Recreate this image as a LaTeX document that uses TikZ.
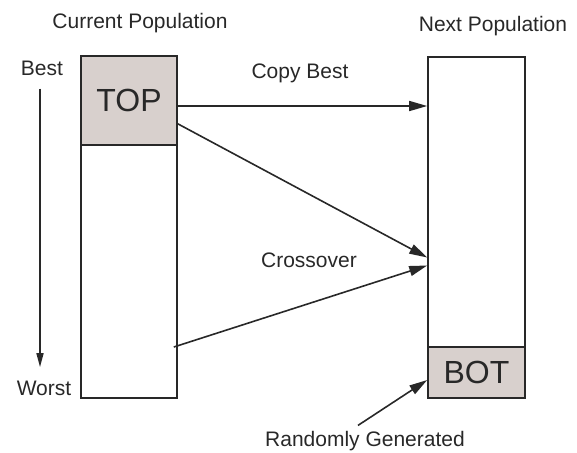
\documentclass[tikz,border=0pt]{standalone}
\usepackage{fontspec}
\setmainfont{Liberation Sans}
\usetikzlibrary{arrows.meta, calc}

\definecolor{popfill}{RGB}{216,208,205}
\definecolor{ink}{RGB}{40,40,40}

\begin{document}
\begin{tikzpicture}[
    x=0.5pt, y=-0.5pt,
    pop/.style={
      rectangle, draw=ink, line width=0.8pt,
      minimum width=48pt, inner sep=0pt
    },
    elite/.style={
      pop, fill=popfill, text=ink,
      font=\fontsize{16}{18}\selectfont
    },
    lbl/.style={font=\fontsize{10.5}{12}\selectfont, text=ink, inner sep=0pt},
    arr/.style={-{Triangle[length=9pt,width=5pt]}, line width=0.8pt, ink},
    rank/.style={-{Triangle[length=7pt,width=3.5pt]}, line width=0.8pt, ink}
  ]

  \useasboundingbox (0,0) rectangle (577,452);

  % Current population, elite block on top
  \node[pop, minimum height=171pt] (cur) at (129,227) {};
  \node[elite, minimum height=44.5pt, anchor=north] (top) at (cur.north) {TOP};

  % Next population, random block at the bottom
  \node[pop, minimum width=48.5pt, minimum height=170.5pt] (nxt) at (476.5,227.5) {};
  \node[elite, minimum width=48.5pt, minimum height=25.5pt, anchor=south]
    (bot) at (nxt.south) {BOT};

  % Labels
  \node[lbl, anchor=base] (curlbl) at (140,28)  {Current Population};
  \node[lbl, anchor=base] (nxtlbl) at (493,31)  {Next Population};
  \node[lbl, anchor=base] (best)   at (42,75)   {Best};
  \node[lbl, anchor=base] (worst)  at (44,395)  {Worst};
  \node[lbl, anchor=base] (copy)   at (300,78)  {Copy Best};
  \node[lbl, anchor=base] (cross)  at (309,267) {Crossover};
  \node[lbl, anchor=base] (rand)   at (365,446) {Randomly Generated};

  % Ranking arrow
  \draw[rank] ($(best.south)+(-2,13)$) -- ($(best.south |- worst.north)+(-2,-13)$);

  % Copy and crossover
  \draw[arr] ($(top.east)+(0,5.5)$) -- ($(top.east -| nxt.west)+(0,5.5)$);
  \draw[arr] ($(top.south east)+(0,-22)$) -- ($(nxt.west)+(0,30)$);
  \draw[arr] ($(cur.east)+(-4,120)$) -- ($(nxt.west)+(0,38)$);

  % Random fill of the bottom block
  \draw[arr] ($(rand.north)+(-7,-5)$) -- ($(bot.west)+(0,7.5)$);

\end{tikzpicture}
\end{document}
